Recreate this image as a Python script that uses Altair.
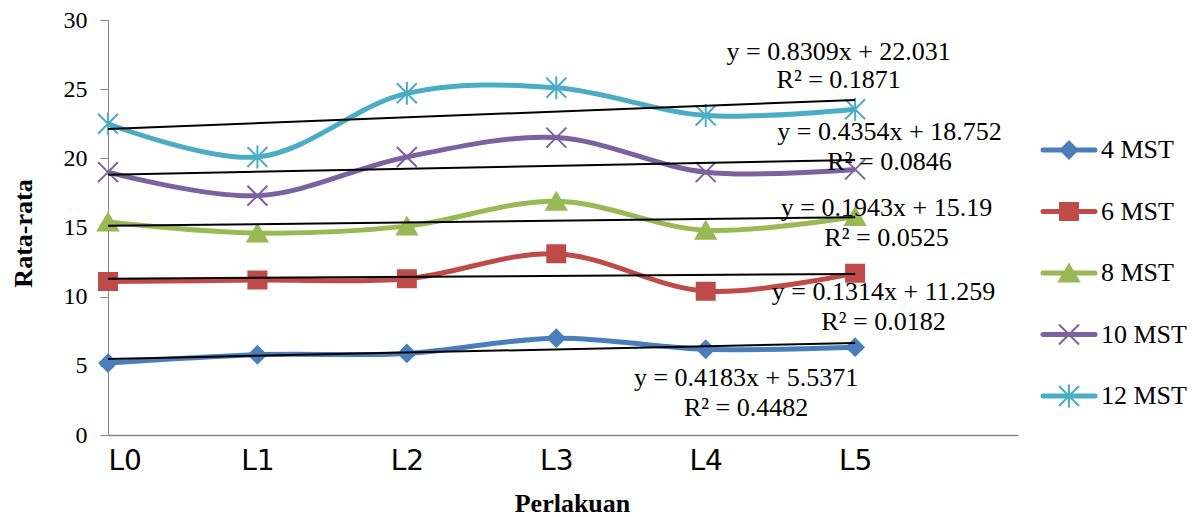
import json
import altair as alt
import pandas as pd

# ---------------- data ----------------
categories = ["L0", "L1", "L2", "L3", "L4", "L5"]
series_names = ["4 MST", "6 MST", "8 MST", "10 MST", "12 MST"]
mst4 = [5.2, 5.8, 5.9, 7.0, 6.2, 6.35]
mst6 = [11.1, 11.2, 11.3, 13.1, 10.4, 11.7]
mst8 = [15.4, 14.6, 15.1, 16.9, 14.8, 15.8]
mst10 = [19.0, 17.3, 20.1, 21.5, 19.0, 19.2]
mst12 = [22.5, 20.1, 24.7, 25.1, 23.1, 23.55]
y_ticks = [0, 5, 10, 15, 20, 25, 30]

eq_lines = ["y = 0.4183x + 5.5371", "y = 0.1314x + 11.259", "y = 0.1943x + 15.19",
            "y = 0.4354x + 18.752", "y = 0.8309x + 22.031"]
r2_lines = ["R² = 0.4482", "R² = 0.0182", "R² = 0.0525", "R² = 0.0846", "R² = 0.1871"]
# annotation anchors in data units (category index, value)
label_x = [4.27, 5.19, 5.21, 5.23, 4.89]
eq_y = [4.12, 10.34, 16.41, 21.91, 27.69]
r2_y = [1.95, 8.17, 14.24, 19.74, 25.67]

# ---------------- styles ----------------
colors = ["#4A7EBB", "#BE4B48", "#98B954", "#7D60A0", "#4BACC6"]
shapes = [
    "M0,-0.85L0.85,0L0,0.85L-0.85,0Z",            # diamond
    "M-0.9,-0.85H0.9V0.85H-0.9Z",                 # square
    "M0,-0.85L1,0.85H-1Z",                        # triangle
    "M-1,-1L1,1M-1,1L1,-1",                       # x
    "M-1,-1L1,1M-1,1L1,-1M0,-1.15V1.15",          # asterisk
]
serif = "Liberation Serif"

values = [mst4, mst6, mst8, mst10, mst12]
rows = []
for s, vals in zip(series_names, values):
    for i, (c, v) in enumerate(zip(categories, vals)):
        rows.append({"series": s, "idx": i, "cat": c, "value": v})
df = pd.DataFrame(rows)

ann = pd.DataFrame(
    [{"text": t, "x": x, "y": y} for t, x, y in zip(eq_lines, label_x, eq_y)]
    + [{"text": t, "x": x, "y": y} for t, x, y in zip(r2_lines, label_x, r2_y)]
)
leg = pd.DataFrame({"series": series_names})

label_expr = f"{json.dumps(categories)}[datum.value]"

X = alt.X(
    "idx:Q",
    scale=alt.Scale(domain=[0, 6.09], nice=False, zero=False),
    axis=alt.Axis(
        values=list(range(len(categories))), labelExpr=label_expr, title="Perlakuan",
        grid=False, ticks=False, tickSize=0, labelFlush=True,
        labelFont="DejaVu Sans", labelFontSize=28, labelColor="black", labelPadding=12,
        domainColor="#868686", domainWidth=1.5,
        titleFont=serif, titleFontSize=26, titleFontWeight="bold", titleColor="black",
        titleX=464, titleY=76, titleBaseline="alphabetic", titleAlign="center",
    ),
)
Y = alt.Y(
    "value:Q",
    scale=alt.Scale(domain=[0, 30], nice=False),
    axis=alt.Axis(
        values=y_ticks, title="Rata-rata", grid=False,
        tickSize=8, tickColor="#868686", domainColor="#868686",
        labelFont=serif, labelFontSize=24, labelColor="black", labelPadding=13,
        titleFont=serif, titleFontSize=26, titleFontWeight="bold", titleColor="black",
        titleAngle=270, titleX=-85, titleY=213, titleAlign="center", titleBaseline="middle",
    ),
)
color = alt.Color("series:N", scale=alt.Scale(domain=series_names, range=colors), legend=None)
fill = alt.Fill("series:N", scale=alt.Scale(domain=series_names, range=colors), legend=None)
stroke = alt.Stroke("series:N", scale=alt.Scale(domain=series_names, range=colors), legend=None)
shape = alt.Shape("series:N", scale=alt.Scale(domain=series_names, range=shapes), legend=None)

base = alt.Chart(df)
lines = base.mark_line(interpolate="catmull-rom", strokeWidth=5).encode(x=X, y=Y, color=color)
points = base.mark_point(filled=True, size=400, strokeWidth=2, opacity=1).encode(
    x=X, y=Y, fill=fill, stroke=stroke, shape=shape)
trend = base.transform_regression("idx", "value", groupby=["series"], extent=[0, 5]).mark_line(
    color="black", strokeWidth=2).encode(x=X, y=Y, detail="series:N")
texts = alt.Chart(ann).mark_text(font=serif, fontSize=26, color="black",
                                 align="center", baseline="middle").encode(
    x=alt.X("x:Q"), y=alt.Y("y:Q"), text="text:N")

main = alt.layer(lines, points, trend, texts)

LY = alt.Y("series:N", scale=alt.Scale(type="point", domain=series_names, range=[130, 376], padding=0),
           axis=None)
lbase = alt.Chart(leg)
leg_rule = lbase.mark_rule(strokeWidth=5, strokeCap="round").encode(
    x=alt.value(935), x2=alt.value(987), y=LY, color=color)
leg_pt = lbase.mark_point(filled=True, size=400, strokeWidth=2, opacity=1).encode(
    x=alt.value(961), y=LY, fill=fill, stroke=stroke, shape=shape)
leg_txt = lbase.mark_text(font=serif, fontSize=26, color="black", align="left", baseline="middle").encode(
    x=alt.value(993), y=LY, text="series:N")
legend = alt.layer(leg_rule, leg_pt, leg_txt)

chart = alt.layer(main, legend).resolve_scale(y="independent").properties(
    width=910, height=415,
    autosize=alt.AutoSizeParams(type="none"),
    padding={"left": 108, "top": 20, "right": 178, "bottom": 82},
    background="white",
).configure_view(stroke=None)

chart.save("out.html", embed_options={"renderer": "svg", "actions": False})
